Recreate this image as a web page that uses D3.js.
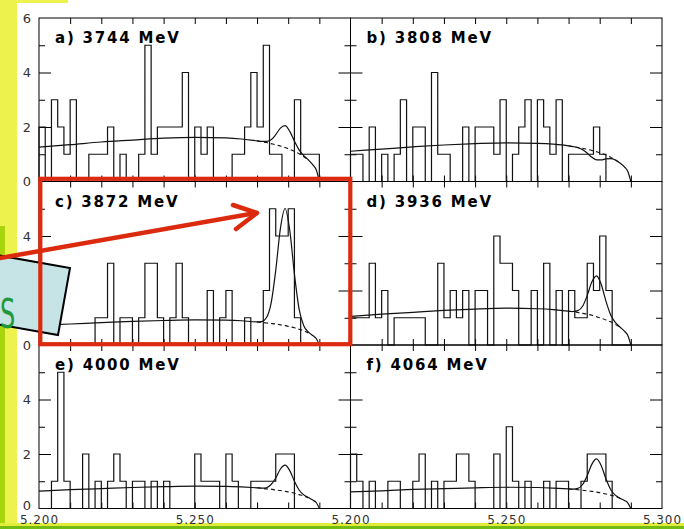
<!DOCTYPE html>
<html>
<head>
<meta charset="utf-8">
<title>Mbc in M(pi pi J/psi) slices</title>
<script src="https://d3js.org/d3.v7.min.js"></script>
<style>
  body { margin: 0; background: #fff; }
  svg { display: block; }
</style>
</head>
<body>
<script>
// panel titles
var titles = ["a) 3744 MeV", "b) 3808 MeV", "c) 3872 MeV", "d) 3936 MeV", "e) 4000 MeV", "f) 4064 MeV"];

// entries per 2 MeV bin, from 5.200 to 5.290
var countsA = [2,0,3,2,1,3,0,0,1,1,1,2,0,1,0,0,1,5,1,2,2,2,2,4,0,2,1,2,0,0,0,1,1,2,4,2,5,1,1,0,0,3,1,1,1];
var countsB = [1,1,0,2,0,1,0,1,3,0,2,2,0,4,1,1,0,0,2,0,2,2,2,1,3,0,1,2,3,0,3,2,1,3,0,1,1,1,1,2,1,0,0,0,0];
var countsC = [0,0,0,0,0,0,0,0,0,1,1,3,0,1,1,0,1,3,3,1,0,1,3,1,0,0,0,2,0,1,2,0,0,1,0,0,2,5,4,4,5,1,0,0,0];
var countsD = [1,1,1,3,1,2,0,1,1,1,1,1,0,0,3,1,2,1,2,0,2,2,0,4,3,3,2,0,0,2,0,3,0,2,0,2,1,1,3,2,4,2,0,0,0];
var countsE = [0,0,1,5,1,0,0,2,0,1,0,1,2,1,0,1,1,0,1,0,1,0,0,0,0,2,1,1,1,0,2,1,0,0,1,1,1,1,2,2,2,0,0,0,0];
var countsF = [2,1,0,1,0,0,1,1,0,0,1,2,0,1,0,1,1,2,2,1,0,0,0,2,0,3,1,0,1,0,0,1,0,1,1,0,0,1,2,2,2,1,0,0,0];

// fit curves: background (dashed under the peak) and total, read at these masses
var fitX = [5.200,5.210,5.220,5.230,5.240,5.250,5.260,5.265,5.270,5.2715,5.273,5.2745,5.276,5.2775,5.279,5.2805,5.282,5.2835,5.285,5.2865,5.288,5.289,5.290];
var bgA  = [1.26,1.35,1.45,1.52,1.59,1.62,1.60,1.56,1.49,1.46,1.43,1.39,1.35,1.30,1.25,1.18,1.11,1.02,0.91,0.78,0.60,0.43,0];
var totA = [1.26,1.35,1.45,1.52,1.59,1.62,1.60,1.56,1.49,1.47,1.47,1.53,1.72,1.96,2.05,1.84,1.48,1.16,0.95,0.79,0.60,0.43,0];
var bgB  = [1.11,1.19,1.27,1.34,1.39,1.42,1.40,1.37,1.31,1.28,1.25,1.22,1.18,1.14,1.09,1.04,0.97,0.89,0.80,0.68,0.53,0.38,0];
var totB = [1.11,1.19,1.27,1.34,1.39,1.42,1.40,1.37,1.31,1.28,1.24,1.17,1.04,0.89,0.79,0.79,0.83,0.84,0.79,0.68,0.53,0.38,0];
var bgC  = [0.72,0.77,0.82,0.87,0.90,0.92,0.91,0.89,0.85,0.83,0.81,0.79,0.77,0.74,0.71,0.67,0.63,0.58,0.52,0.44,0.34,0.24,0];
var totC = [0.72,0.77,0.82,0.87,0.90,0.92,0.91,0.89,0.85,0.86,1.00,1.53,2.74,4.28,5.01,4.21,2.60,1.32,0.71,0.47,0.34,0.24,0];
var bgD  = [1.05,1.13,1.20,1.27,1.32,1.35,1.33,1.30,1.24,1.22,1.19,1.16,1.13,1.09,1.04,0.98,0.92,0.85,0.76,0.65,0.50,0.36,0];
var totD = [1.05,1.13,1.20,1.27,1.32,1.35,1.33,1.30,1.24,1.23,1.26,1.42,1.82,2.32,2.54,2.22,1.61,1.11,0.83,0.66,0.50,0.36,0];
var bgE  = [0.64,0.69,0.73,0.77,0.80,0.82,0.81,0.79,0.76,0.74,0.72,0.71,0.68,0.66,0.63,0.60,0.56,0.51,0.46,0.39,0.30,0.22,0];
var totE = [0.64,0.69,0.73,0.77,0.80,0.82,0.81,0.79,0.76,0.75,0.76,0.88,1.12,1.45,1.59,1.39,1.00,0.68,0.50,0.40,0.30,0.22,0];
var bgF  = [0.61,0.65,0.70,0.73,0.76,0.78,0.77,0.75,0.72,0.70,0.69,0.67,0.65,0.63,0.60,0.57,0.53,0.49,0.44,0.37,0.29,0.21,0];
var totF = [0.61,0.65,0.70,0.73,0.76,0.78,0.77,0.75,0.72,0.71,0.74,0.88,1.21,1.63,1.82,1.57,1.09,0.70,0.49,0.38,0.29,0.21,0];

// axis labels
var yLabels = [0, 2, 4, 6];
var xLabels = [5.200, 5.250, 5.300];

var counts = [countsA, countsB, countsC, countsD, countsE, countsF];
var bgs = [bgA, bgB, bgC, bgD, bgE, bgF];
var tots = [totA, totB, totC, totD, totE, totF];

var W = 684, H = 529;
var left = 39, top0 = 18, pw = 311.5, ph = 163.5;
var binW = 0.002;
var red = "#dc2a0e";

var svg = d3.select("body").append("svg")
    .attr("width", W)
    .attr("height", H);

svg.append("rect").attr("width", W).attr("height", H).attr("fill", "#fff");

// slide decorations
svg.append("rect").attr("x", 0).attr("y", 0).attr("width", 17).attr("height", 523).attr("fill", "#eef24c");
svg.append("rect").attr("x", 0).attr("y", 0).attr("width", 68).attr("height", 3).attr("fill", "#eef24c");
svg.append("rect").attr("x", 0).attr("y", 226).attr("width", 5).attr("height", 297).attr("fill", "#a8d40c");
svg.append("rect").attr("x", 0).attr("y", 523).attr("width", W).attr("height", 3).attr("fill", "#e2ec3a");
svg.append("rect").attr("x", 0).attr("y", 526).attr("width", W).attr("height", 3).attr("fill", "#72bc12");

var x = d3.scaleLinear().domain([5.2, 5.3]).range([0, pw]);
var y = d3.scaleLinear().domain([0, 6]).range([ph, 0]);

var hist = d3.line()
    .x(d => x(d[0]))
    .y(d => y(d[1]))
    .curve(d3.curveStepAfter);

var fit = d3.line()
    .x(d => x(d[0]))
    .y(d => y(d[1]))
    .curve(d3.curveMonotoneX);

var xTicks = d3.range(1, 10).map(i => 5.2 + i * 0.01);

titles.forEach(function(t, p) {
    var col = p % 2, row = Math.floor(p / 2);
    var g = svg.append("g")
        .attr("transform", "translate(" + (left + col * pw) + "," + (top0 + row * ph) + ")");

    // ticks, pointing inward on every side
    function ticks(axis, tx, ty) {
        var a = g.append("g").attr("transform", "translate(" + tx + "," + ty + ")").call(axis);
        a.select(".domain").remove();
        a.selectAll("line").attr("stroke", "#000");
        return a;
    }
    ticks(d3.axisLeft(y).tickValues([2, 4]).tickSize(-12).tickFormat(""), 0, 0);
    ticks(d3.axisLeft(y).tickValues([1, 3, 5]).tickSize(-6).tickFormat(""), 0, 0);
    ticks(d3.axisRight(y).tickValues([2, 4]).tickSize(-12).tickFormat(""), pw, 0);
    ticks(d3.axisRight(y).tickValues([1, 3, 5]).tickSize(-6).tickFormat(""), pw, 0);
    ticks(d3.axisTop(x).tickValues(xTicks).tickSize(-6).tickFormat(""), 0, 0);
    ticks(d3.axisBottom(x).tickValues(xTicks).tickSize(-6).tickFormat(""), 0, ph);

    // labels
    if (col == 0) {
        var yl = ticks(d3.axisLeft(y)
            .tickValues(row == 0 ? yLabels : yLabels.slice(0, 3))
            .tickSize(0).tickPadding(8)
            .tickFormat(d3.format("d")), 0, 0);
        yl.selectAll("text")
            .attr("font-family", "DejaVu Sans")
            .attr("font-size", 13)
            .attr("fill", "#333");
        // keep the lowest "0" clear of the mass labels
        if (row == 2) yl.selectAll("text").filter(d => d == 0).attr("dy", "0.1em");
    }
    if (row == 2) {
        var xl = ticks(d3.axisBottom(x)
            .tickValues(col == 0 ? xLabels.slice(0, 2) : xLabels)
            .tickSize(0).tickPadding(7)
            .tickFormat(d3.format(".3f")), 0, ph);
        xl.selectAll("text")
            .attr("font-family", "DejaVu Sans")
            .attr("font-size", 12)
            .attr("letter-spacing", 0.9)
            .attr("fill", "#333");
    }

    // frame
    g.append("rect")
        .attr("width", pw).attr("height", ph)
        .attr("fill", "none").attr("stroke", "#000").attr("stroke-width", 1);

    // histogram
    var pts = [[5.2, 0]]
        .concat(counts[p].map((c, i) => [5.2 + i * binW, c]))
        .concat([[5.2 + counts[p].length * binW, 0]]);
    g.append("path")
        .attr("d", hist(pts))
        .attr("fill", "none")
        .attr("stroke", "#111")
        .attr("stroke-width", 1.2);

    // background under the peak
    var bgPts = fitX.map((m, i) => [m, bgs[p][i]]).slice(8, 20);
    g.append("path")
        .attr("d", fit(bgPts))
        .attr("fill", "none")
        .attr("stroke", "#111")
        .attr("stroke-width", 1.1)
        .attr("stroke-dasharray", "4,3");

    // total fit
    g.append("path")
        .attr("d", fit(fitX.map((m, i) => [m, tots[p][i]])))
        .attr("fill", "none")
        .attr("stroke", "#111")
        .attr("stroke-width", 1.2);

    g.append("text")
        .attr("x", 16).attr("y", 25)
        .attr("font-family", "DejaVu Sans")
        .attr("font-weight", "bold")
        .attr("font-size", 15)
        .attr("letter-spacing", 1.8)
        .attr("fill", "#000")
        .text(t);
});

// overlay from the slide: tilted text box, highlight frame and arrow
svg.append("polygon")
    .attr("points", "-60,245 70,268 58,335 -60,314")
    .attr("fill", "#c6e4e6")
    .attr("stroke", "#000")
    .attr("stroke-width", 2);

svg.append("text")
    .attr("transform", "translate(0,328) scale(0.6,1)")
    .attr("font-family", "DejaVu Sans")
    .attr("font-size", 40)
    .attr("fill", "#1f9a3a")
    .text("S");

svg.append("rect")
    .attr("x", 40.3).attr("y", 178.8)
    .attr("width", 310).attr("height", 165.4)
    .attr("fill", "none")
    .attr("stroke", red)
    .attr("stroke-width", 4.2);

svg.append("line")
    .attr("x1", 0).attr("y1", 258)
    .attr("x2", 256).attr("y2", 213)
    .attr("stroke", red).attr("stroke-width", 4.5)
    .attr("stroke-linecap", "round");

svg.append("polyline")
    .attr("points", "233,205 257,213 236,229")
    .attr("fill", "none")
    .attr("stroke", red).attr("stroke-width", 4.5)
    .attr("stroke-linecap", "round")
    .attr("stroke-linejoin", "round");
</script>
</body>
</html>
